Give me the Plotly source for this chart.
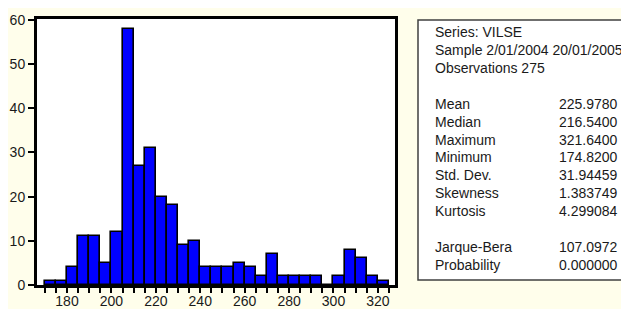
import plotly.graph_objects as go

# ---- data ----
bin_left = [170, 175, 180, 185, 190, 195, 200, 205, 210, 215, 220, 225, 230, 235,
            240, 245, 250, 255, 260, 265, 270, 275, 280, 285, 290, 295, 300, 305,
            310, 315, 320]
counts = [1, 1, 4, 11, 11, 5, 12, 58, 27, 31, 20, 18, 9, 10,
          4, 4, 4, 5, 4, 2, 7, 2, 2, 2, 2, 0, 2, 8,
          6, 2, 1]
bin_width = 5
x_ticks = [180, 200, 220, 240, 260, 280, 300, 320]
y_ticks = [0, 10, 20, 30, 40, 50, 60]

header_lines = ["Series: VILSE", "Sample 2/01/2004 20/01/2005", "Observations 275"]
stat_names = ["Mean", "Median", "Maximum", "Minimum", "Std. Dev.", "Skewness", "Kurtosis"]
stat_values = ["225.9780", "216.5400", "321.6400", "174.8200", "31.94459", "1.383749", "4.299084"]
test_names = ["Jarque-Bera", "Probability"]
test_values = ["107.0972", "0.000000"]

# the page body has an 8px default margin; lay out in window pixels and shift
OFF = 8
W, H = 629 - OFF, 309 - OFF
ML, MT = 37 - OFF, 19 - OFF
MR, MB = 629 - 395, 309 - 285
PW = W - ML - MR
PH = H - MT - MB
FONT = "Liberation Sans, Arial, sans-serif"
TXT = "#1a1a1a"

def px_x(p):
    return (p - OFF - ML) / PW

def px_y(p):
    return (H - MB - (p - OFF)) / PH

fig = go.Figure()
fig.add_trace(go.Bar(
    x=[b + bin_width / 2 for b in bin_left],
    y=counts,
    width=bin_width,
    marker=dict(color="#0000FF", line=dict(color="black", width=1.6)),
    hoverinfo="x+y",
))

fig.update_layout(
    width=W, height=H,
    margin=dict(l=ML, r=MR, t=MT, b=MB, pad=0, autoexpand=False),
    paper_bgcolor="#FFFEEB",
    plot_bgcolor="white",
    showlegend=False,
    font=dict(family=FONT, size=14, color=TXT),
    bargap=0,
    xaxis=dict(
        range=[166.5, 327.7],
        tickvals=x_ticks,
        automargin=False,
        ticks="outside", ticklen=5, tickwidth=1.5, tickcolor="black",
        ticklabelstandoff=-4,
        minor=dict(dtick=5, tick0=170, ticks="outside", ticklen=5, tickwidth=1.5, tickcolor="black", showgrid=False),
        showline=True, linewidth=3, linecolor="black", mirror=True,
        showgrid=False, zeroline=False,
        tickfont=dict(family=FONT, size=14, color=TXT),
    ),
    yaxis=dict(
        range=[0, 60.2],
        tickvals=y_ticks,
        automargin=False,
        ticks="outside", ticklen=6, tickwidth=1.5, tickcolor="black",
        showline=True, linewidth=3, linecolor="black", mirror=True,
        showgrid=False, zeroline=False,
        tickfont=dict(family=FONT, size=14, color=TXT),
    ),
)

# stats box
fig.add_shape(type="rect", xref="paper", yref="paper",
              x0=px_x(418), x1=px_x(633), y0=px_y(280), y1=px_y(20),
              line=dict(color="#404040", width=1.5), fillcolor="white", layer="above")

ROW0 = 32.5
ROWH = 17.85
LEFT = 433
RIGHT = 620

def row_y(i):
    return px_y(ROW0 + ROWH * i)

def add_text(x, y, t, anchor):
    fig.add_annotation(xref="paper", yref="paper", x=x, y=y, text=t,
                       showarrow=False, xanchor=anchor, yanchor="middle",
                       font=dict(family=FONT, size=14, color=TXT))

for i, t in enumerate(header_lines):
    add_text(px_x(LEFT), row_y(i), t, "left")

for j, (n, v) in enumerate(zip(stat_names, stat_values)):
    add_text(px_x(LEFT), row_y(4 + j), n, "left")
    add_text(px_x(RIGHT), row_y(4 + j), v, "right")

for j, (n, v) in enumerate(zip(test_names, test_values)):
    add_text(px_x(LEFT), row_y(12 + j), n, "left")
    add_text(px_x(RIGHT), row_y(12 + j), v, "right")

fig.write_html("out.html")
